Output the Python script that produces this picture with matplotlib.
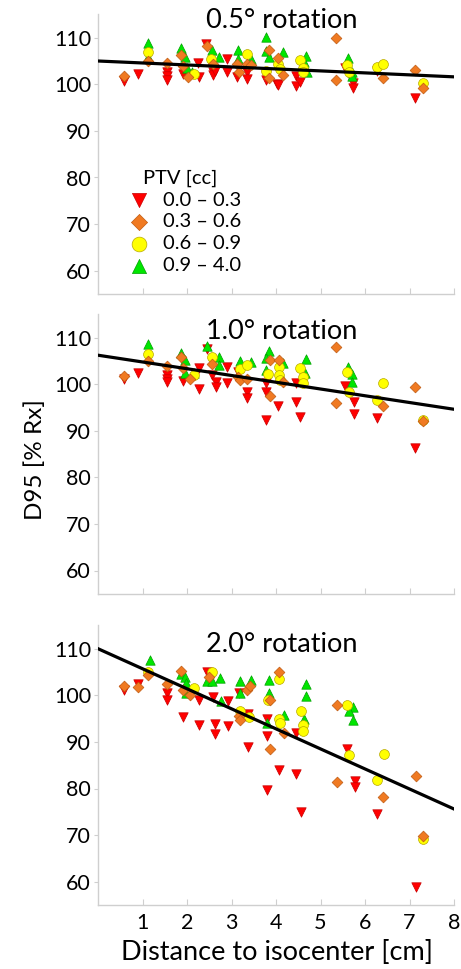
import matplotlib.pyplot as plt
import numpy as np

plt.rcParams['font.family'] = ['Lato', 'DejaVu Sans']

# PTV categories and marker styles
ptv_labels = ['0.0 – 0.3', '0.3 – 0.6', '0.6 – 0.9', '0.9 – 4.0']
ptv_colors = ['#ff0000', '#f07a22', '#ffff00', '#00e600']
ptv_edges = ['#c80000', '#c05a10', '#b8a800', '#00a000']
ptv_markers = ['v', 'D', 'o', '^']
ptv_sizes = [46, 30, 50, 46]

titles = ['0.5° rotation', '1.0° rotation', '2.0° rotation']
fit_intercept = [105.0, 106.2, 110.0]
fit_slope = [-0.425, -1.45, -4.3]

# 0.5 deg rotation
p1_red_x = [0.59, 0.91, 1.56, 1.56, 1.56, 1.90, 2.27, 2.25, 2.43, 2.58, 2.58, 2.64, 2.91, 2.91, 3.13,
            3.35, 3.35, 3.78, 3.78, 4.02, 4.04, 4.44, 4.44, 4.55, 5.56, 5.73, 5.73, 6.26, 7.13]
p1_red_y = [100.8, 102.2, 102.6, 101.7, 101.0, 102.2, 101.5, 104.6, 108.6, 102.6, 101.9, 102.9, 105.4, 102.7, 101.5,
            102.6, 101.2, 101.9, 100.9, 100.1, 99.8, 101.8, 99.7, 100.4, 103.4, 100.3, 99.1, 102.9, 97.0]
p1_org_x = [0.59, 1.13, 1.55, 1.86, 1.90, 2.03, 2.45, 2.58, 3.13, 3.16, 3.35, 3.44, 3.85, 3.85, 4.04,
            4.16, 5.35, 5.35, 6.40, 7.13, 7.31]
p1_org_y = [101.7, 104.9, 104.5, 106.3, 104.0, 101.5, 108.3, 104.3, 104.3, 102.6, 104.3, 104.2, 107.4, 101.3, 105.6,
            102.0, 109.9, 101.0, 101.4, 103.1, 99.1]
p1_yel_x = [1.13, 2.15, 2.55, 3.35, 3.78, 4.04, 4.08, 4.53, 4.61, 4.61, 5.59, 5.64, 6.28, 6.40, 7.31]
p1_yel_y = [107.0, 102.2, 105.4, 106.4, 102.9, 104.4, 103.3, 105.2, 103.6, 102.7, 104.1, 102.7, 103.8, 104.4, 100.3]
p1_grn_x = [1.13, 1.13, 1.86, 1.96, 1.99, 2.11, 2.56, 2.73, 3.15, 3.15, 3.44, 3.78, 3.78, 3.85, 4.16,
            4.68, 4.62, 4.70, 5.62, 5.71, 5.71]
p1_grn_y = [108.8, 105.8, 107.7, 105.8, 103.6, 102.6, 107.4, 105.8, 107.4, 105.4, 105.4, 110.1, 107.2, 105.8, 107.0,
            106.1, 104.7, 102.6, 105.6, 102.6, 101.8]

# 1.0 deg rotation
p2_red_x = [0.59, 0.91, 1.55, 1.56, 1.56, 1.90, 2.26, 2.28, 2.45, 2.57, 2.65, 2.65, 2.91, 2.91, 3.14,
            3.35, 3.35, 3.78, 3.78, 3.78, 4.04, 4.44, 4.44, 4.55, 5.56, 5.75, 5.75, 6.27, 7.13]
p2_red_y = [101.0, 102.3, 102.0, 101.0, 100.5, 100.7, 103.4, 98.9, 107.5, 102.0, 100.5, 99.4, 103.7, 100.2, 102.6,
            98.2, 97.0, 100.3, 98.2, 92.4, 95.3, 100.2, 96.2, 92.9, 99.6, 96.2, 93.6, 92.7, 86.2]
p2_org_x = [0.59, 1.13, 1.55, 1.86, 1.90, 2.06, 2.57, 3.14, 3.18, 3.35, 3.86, 3.86, 4.06, 4.16, 5.35,
            5.35, 6.40, 7.13, 7.31]
p2_org_y = [101.7, 105.0, 103.9, 105.9, 103.4, 101.0, 104.3, 101.6, 100.8, 101.2, 105.2, 97.4, 105.2, 100.5, 107.9,
            96.0, 95.3, 99.3, 92.0]
p2_yel_x = [1.13, 2.15, 2.57, 3.18, 3.35, 3.81, 4.06, 4.06, 4.08, 4.55, 4.61, 4.61, 5.59, 5.64, 6.27, 6.40, 7.31]
p2_yel_y = [106.5, 101.9, 105.9, 103.3, 104.1, 102.2, 103.7, 102.0, 100.9, 103.4, 101.5, 100.2, 102.7, 98.4, 96.6,
            100.3, 92.3]
p2_grn_x = [1.13, 1.86, 1.96, 1.96, 2.15, 2.45, 2.73, 2.73, 3.18, 3.44, 3.84, 3.78, 3.78, 4.16, 4.68,
            4.66, 5.62, 5.71, 5.71]
p2_grn_y = [108.6, 106.7, 105.2, 102.3, 102.3, 108.2, 105.9, 104.1, 105.0, 104.8, 107.0, 105.7, 103.0, 104.6, 105.3,
            102.3, 103.7, 102.2, 100.5]

# 2.0 deg rotation
p3_red_x = [0.59, 0.91, 1.56, 1.56, 1.92, 2.28, 2.28, 2.45, 2.59, 2.64, 2.64, 2.93, 2.93, 3.16, 3.37,
            3.37, 3.80, 3.80, 3.80, 4.07, 4.44, 4.46, 4.57, 5.60, 5.77, 5.77, 6.28, 7.15]
p3_red_y = [101.2, 102.4, 100.6, 99.0, 95.3, 99.0, 93.7, 104.9, 99.7, 93.9, 91.7, 98.7, 93.5, 100.6, 95.9,
            88.9, 94.9, 91.3, 79.6, 83.9, 91.9, 83.2, 74.9, 88.5, 81.7, 80.4, 74.6, 58.9]
p3_org_x = [0.59, 0.91, 1.13, 1.56, 1.86, 1.90, 2.06, 2.50, 3.35, 3.41, 3.16, 3.18, 3.87, 3.87, 4.06,
            4.17, 5.36, 5.36, 6.41, 7.15, 7.31]
p3_org_y = [101.9, 101.7, 104.4, 102.4, 105.3, 101.2, 100.1, 103.9, 101.2, 102.0, 95.6, 94.6, 99.0, 88.5, 105.1,
            91.9, 97.9, 81.3, 78.2, 82.6, 69.9]
p3_yel_x = [1.13, 2.16, 2.57, 3.18, 3.39, 3.81, 4.07, 4.06, 4.10, 4.57, 4.61, 4.61, 5.60, 5.64, 6.43, 6.28, 7.31]
p3_yel_y = [105.1, 101.5, 104.9, 96.7, 95.4, 99.0, 94.9, 103.4, 94.0, 96.7, 93.7, 92.4, 97.9, 87.2, 87.4,
            81.9, 69.2]
p3_grn_x = [1.16, 1.86, 1.95, 1.98, 1.98, 2.45, 2.57, 2.75, 2.77, 3.18, 3.18, 3.44, 3.85, 3.85, 3.80,
            4.17, 4.68, 4.68, 4.64, 5.74, 5.65, 5.74]
p3_grn_y = [107.6, 104.6, 103.9, 102.6, 100.6, 103.1, 103.1, 103.7, 98.7, 103.1, 100.6, 103.3, 103.3, 100.5, 94.0,
            95.8, 102.4, 99.9, 94.9, 97.5, 96.7, 94.7]

panels = [
    [(p1_red_x, p1_red_y), (p1_org_x, p1_org_y), (p1_yel_x, p1_yel_y), (p1_grn_x, p1_grn_y)],
    [(p2_red_x, p2_red_y), (p2_org_x, p2_org_y), (p2_yel_x, p2_yel_y), (p2_grn_x, p2_grn_y)],
    [(p3_red_x, p3_red_y), (p3_org_x, p3_org_y), (p3_yel_x, p3_yel_y), (p3_grn_x, p3_grn_y)],
]

W, H = 461, 969
fig = plt.figure(figsize=(W / 100, H / 100), dpi=100)

# axes boxes in pixels (top, bottom)
boxes = [(14.4, 294.0), (314.2, 593.8), (625.4, 905.0)]
title_y = [0.977, 0.937, 0.933]
left_px, right_px = 98, 454
spine_col = '#cfcfcf'

draw_order = [0, 3, 2, 1]
for i, (top, bot) in enumerate(boxes):
    ax = fig.add_axes([left_px / W, 1 - bot / H, (right_px - left_px) / W, (bot - top) / H])
    for k in draw_order:
        xs, ys = panels[i][k]
        ax.scatter(xs, ys, marker=ptv_markers[k], s=ptv_sizes[k], c=ptv_colors[k],
                   edgecolors=ptv_edges[k], linewidths=0.5, zorder=3, label=ptv_labels[k])
    xf = np.array([0, 8])
    ax.plot(xf, fit_intercept[i] + fit_slope[i] * xf, color='black', lw=2.3, zorder=4)

    ax.set_xlim(0, 8)
    ax.set_ylim(55, 115)
    ax.set_yticks([60, 70, 80, 90, 100, 110])
    ax.set_xticks([1, 2, 3, 4, 5, 6, 7, 8])
    for s in ['top', 'right']:
        ax.spines[s].set_visible(False)
    for s in ['left', 'bottom']:
        ax.spines[s].set_color(spine_col)
        ax.spines[s].set_linewidth(1.0)
    ax.tick_params(axis='y', direction='out', length=3, color=spine_col, labelsize=15.5, pad=2)
    ax.tick_params(axis='x', direction='in', length=4, color=spine_col, labelsize=15.5, pad=6)
    if i < 2:
        ax.tick_params(axis='x', labelbottom=False)
    ax.text(0.517, title_y[i], titles[i], transform=ax.transAxes, ha='center', va='center', fontsize=19.5)

    if i == 0:
        handles, labels = ax.get_legend_handles_labels()
        order = [labels.index(l) for l in ptv_labels]
        leg = ax.legend([handles[j] for j in order], ptv_labels, title='PTV [cc]', loc='upper left',
                        bbox_to_anchor=(0.035, 0.475), frameon=False, fontsize=14.5, title_fontsize=14.5,
                        handletextpad=0.2, labelspacing=0.24, borderaxespad=0, markerscale=1.5)
        leg._legend_box.align = 'center'

fig.text(35 / W, 1 - 460 / H, 'D95 [% Rx]', rotation=90, ha='center', va='center', fontsize=17.5)
fig.text(277 / W, 1 - 952 / H, 'Distance to isocenter [cm]', ha='center', va='center', fontsize=19.5)

plt.savefig('out.png', dpi=100, facecolor='white')
